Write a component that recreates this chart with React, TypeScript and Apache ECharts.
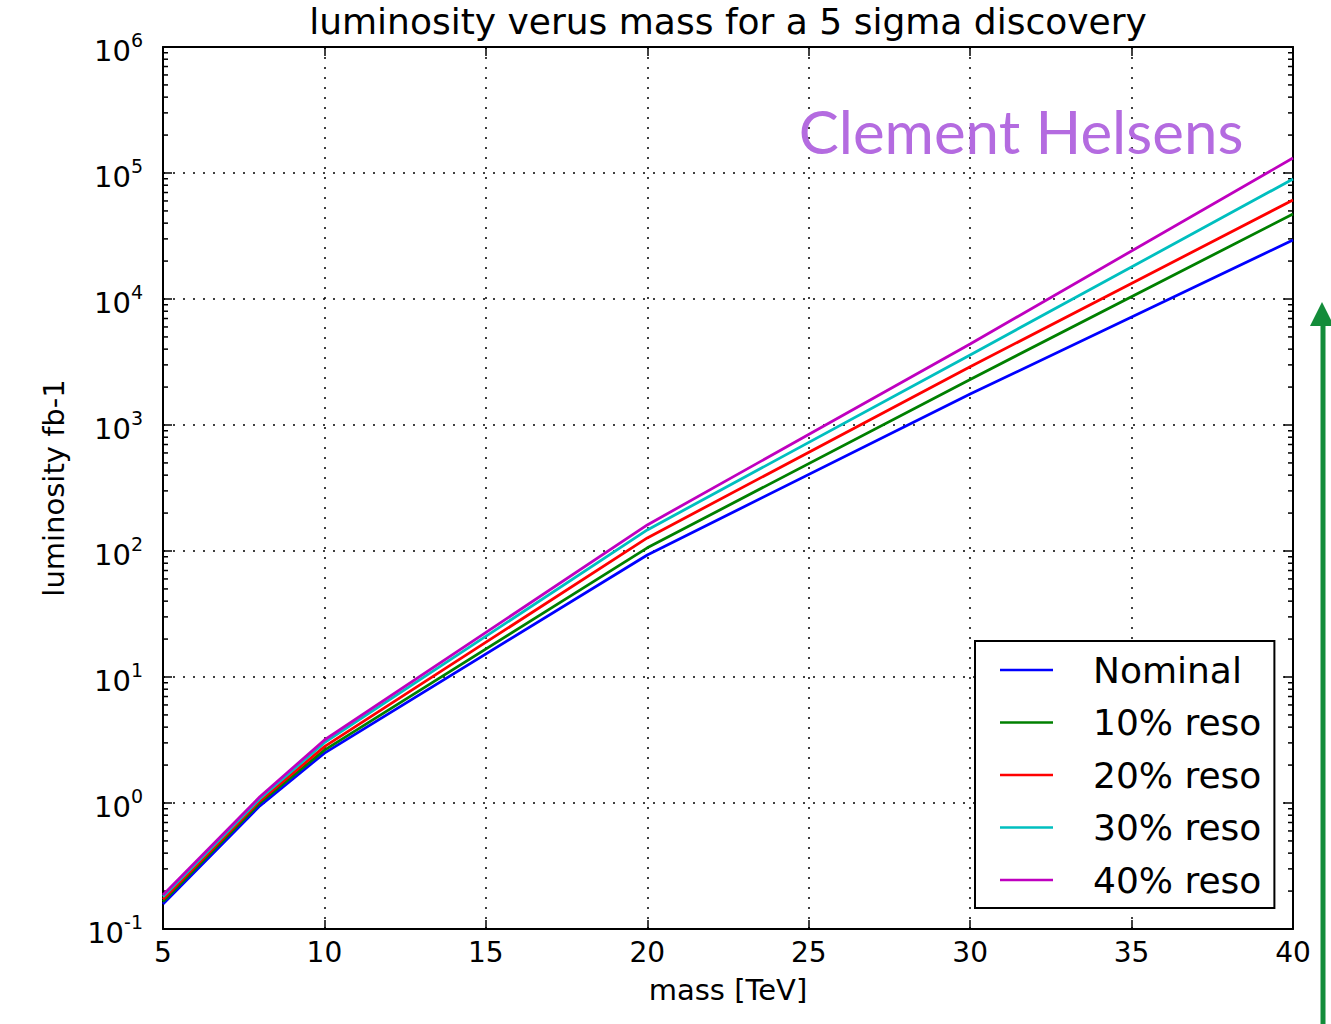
import React, { useEffect, useRef } from "react";
import * as echarts from "echarts";

const mass = [5, 8, 10, 20, 30, 40];
const nominal = [0.158, 0.95, 2.49, 93, 1760, 29400];
const reso10 = [0.165, 1.0, 2.63, 106, 2300, 47300];
const reso20 = [0.172, 1.04, 2.8, 127, 2900, 61000];
const reso30 = [0.18, 1.08, 3.01, 147, 3600, 89600];
const reso40 = [0.186, 1.12, 3.16, 161, 4400, 131500];

const seriesNames = ["Nominal", "10% reso", "20% reso", "30% reso", "40% reso"];
const seriesColors = ["#0000ff", "#008000", "#ff0000", "#00bfbf", "#bf00bf"];
const seriesValues = [nominal, reso10, reso20, reso30, reso40];

const yDecades = [-1, 0, 1, 2, 3, 4, 5, 6];
const minorMultipliers = [2, 3, 4, 5, 6, 7, 8, 9];

const titleText = "luminosity verus mass for a 5 sigma discovery";
const xName = "mass [TeV]";
const yName = "luminosity fb-1";
const watermark = "Clement Helsens";

const FONT = "DejaVu Sans";

export default function App() {
  const ref = useRef<HTMLDivElement>(null);
  useEffect(() => {
    document.body.style.margin = "0";
    if (!ref.current) return;
    const chart = echarts.init(ref.current, undefined, { renderer: "svg" });

    const minorTickData: number[][] = [];
    for (let i = 0; i < yDecades.length - 1; i++) {
      for (const m of minorMultipliers) {
        minorTickData.push([mass[0], m * Math.pow(10, yDecades[i])]);
      }
    }

    const yLabel = (v: number) => {
      const e = Math.round(Math.log10(v));
      return `{b|10}{e|${e}}`;
    };

    const gridLine = {
      show: true,
      lineStyle: { color: "#000", width: 1.5, type: [2, 8] as any },
    };

    const option: any = {
      animation: false,
      backgroundColor: "#fff",
      grid: { left: 163, top: 47, width: 1130, height: 882, containLabel: false },
      xAxis: [
        {
          type: "value",
          min: 5,
          max: 40,
          interval: 5,
          name: xName,
          nameLocation: "middle",
          nameGap: 46,
          nameTextStyle: { fontFamily: FONT, fontSize: 29, color: "#000" },
          axisLine: { show: true, lineStyle: { color: "#000", width: 2 } },
          axisTick: { show: true, inside: true, length: 9, lineStyle: { color: "#000", width: 1.5 } },
          axisLabel: { fontFamily: FONT, fontSize: 28, color: "#000", margin: 9 },
          splitLine: gridLine,
        },
        {
          type: "value",
          position: "top",
          min: 5,
          max: 40,
          interval: 5,
          axisLine: { show: true, lineStyle: { color: "#000", width: 2 } },
          axisTick: { show: true, inside: true, length: 9, lineStyle: { color: "#000", width: 1.5 } },
          axisLabel: { show: false },
          splitLine: { show: false },
        },
      ],
      yAxis: [
        {
          type: "log",
          logBase: 10,
          min: 0.1,
          max: 1e6,
          interval: 1,
          name: yName,
          nameLocation: "middle",
          nameGap: 95,
          nameRotate: 90,
          nameTextStyle: { fontFamily: FONT, fontSize: 29, color: "#000" },
          axisLine: { show: true, lineStyle: { color: "#000", width: 2 } },
          axisTick: { show: true, inside: true, length: 9, lineStyle: { color: "#000", width: 1.5 } },
          axisLabel: {
            margin: 20,
            formatter: yLabel,
            rich: {
              b: { fontFamily: FONT, fontSize: 29, color: "#000", lineHeight: 34, padding: [8, 0, 0, 0] },
              e: { fontFamily: FONT, fontSize: 19, color: "#000", verticalAlign: "top", lineHeight: 20 },
            },
          },
          splitLine: gridLine,
        },
        {
          type: "log",
          logBase: 10,
          min: 0.1,
          max: 1e6,
          interval: 1,
          position: "right",
          axisLine: { show: true, lineStyle: { color: "#000", width: 2 } },
          axisTick: { show: true, inside: true, length: 9, lineStyle: { color: "#000", width: 1.5 } },
          axisLabel: { show: false },
          splitLine: { show: false },
        },
      ],
      legend: {
        data: seriesNames,
        orient: "vertical",
        left: 975,
        top: 641,
        padding: [9, 13, 8, 25],
        backgroundColor: "#fff",
        borderColor: "#000",
        borderWidth: 2,
        borderRadius: 0,
        icon: "rect",
        itemWidth: 53,
        itemHeight: 2.5,
        itemGap: 12.5,
        textStyle: {
          fontFamily: FONT,
          fontSize: 36,
          color: "#000",
          lineHeight: 40,
          padding: [0, 0, 0, 35],
        },
      },
      series: [
        ...seriesNames.map((name, i) => ({
          name,
          type: "line",
          xAxisIndex: 0,
          yAxisIndex: 0,
          data: mass.map((m, j) => [m, seriesValues[i][j]]),
          showSymbol: false,
          symbol: "none",
          lineStyle: { color: seriesColors[i], width: 2.8 },
          itemStyle: { color: seriesColors[i] },
          z: 3,
        })),
        {
          name: "minorTicks",
          type: "custom",
          xAxisIndex: 0,
          yAxisIndex: 0,
          silent: true,
          data: minorTickData,
          renderItem: (params: any, api: any) => {
            const p = api.coord([api.value(0), api.value(1)]);
            const cs = params.coordSys;
            return {
              type: "group",
              children: [
                {
                  type: "line",
                  shape: { x1: cs.x, y1: p[1], x2: cs.x + 5, y2: p[1] },
                  style: { stroke: "#000", lineWidth: 1.5 },
                },
                {
                  type: "line",
                  shape: { x1: cs.x + cs.width, y1: p[1], x2: cs.x + cs.width - 5, y2: p[1] },
                  style: { stroke: "#000", lineWidth: 1.5 },
                },
              ],
            };
          },
          z: 2,
        },
      ],
      graphic: [
        {
          type: "text",
          x: 728,
          y: 21,
          style: {
            text: titleText,
            fontFamily: FONT,
            fontSize: 36,
            fill: "#000",
            textAlign: "center",
            textVerticalAlign: "middle",
          },
        },
        {
          type: "text",
          x: 1021,
          y: 131,
          z: 10,
          style: {
            text: watermark,
            fontFamily: "Lato",
            fontSize: 60,
            fill: "#b46be0",
            textAlign: "center",
            textVerticalAlign: "middle",
          },
        },
        {
          type: "line",
          shape: { x1: 1323, y1: 1024, x2: 1323, y2: 318 },
          style: { stroke: "#138c3a", lineWidth: 5 },
        },
        {
          type: "polygon",
          shape: { points: [[1322, 302], [1310, 326], [1334, 326]] },
          style: { fill: "#138c3a" },
        },
      ],
    };
    chart.setOption(option);
    return () => chart.dispose();
  }, []);
  return <div ref={ref} style={{ width: 1331, height: 1024 }} />;
}
